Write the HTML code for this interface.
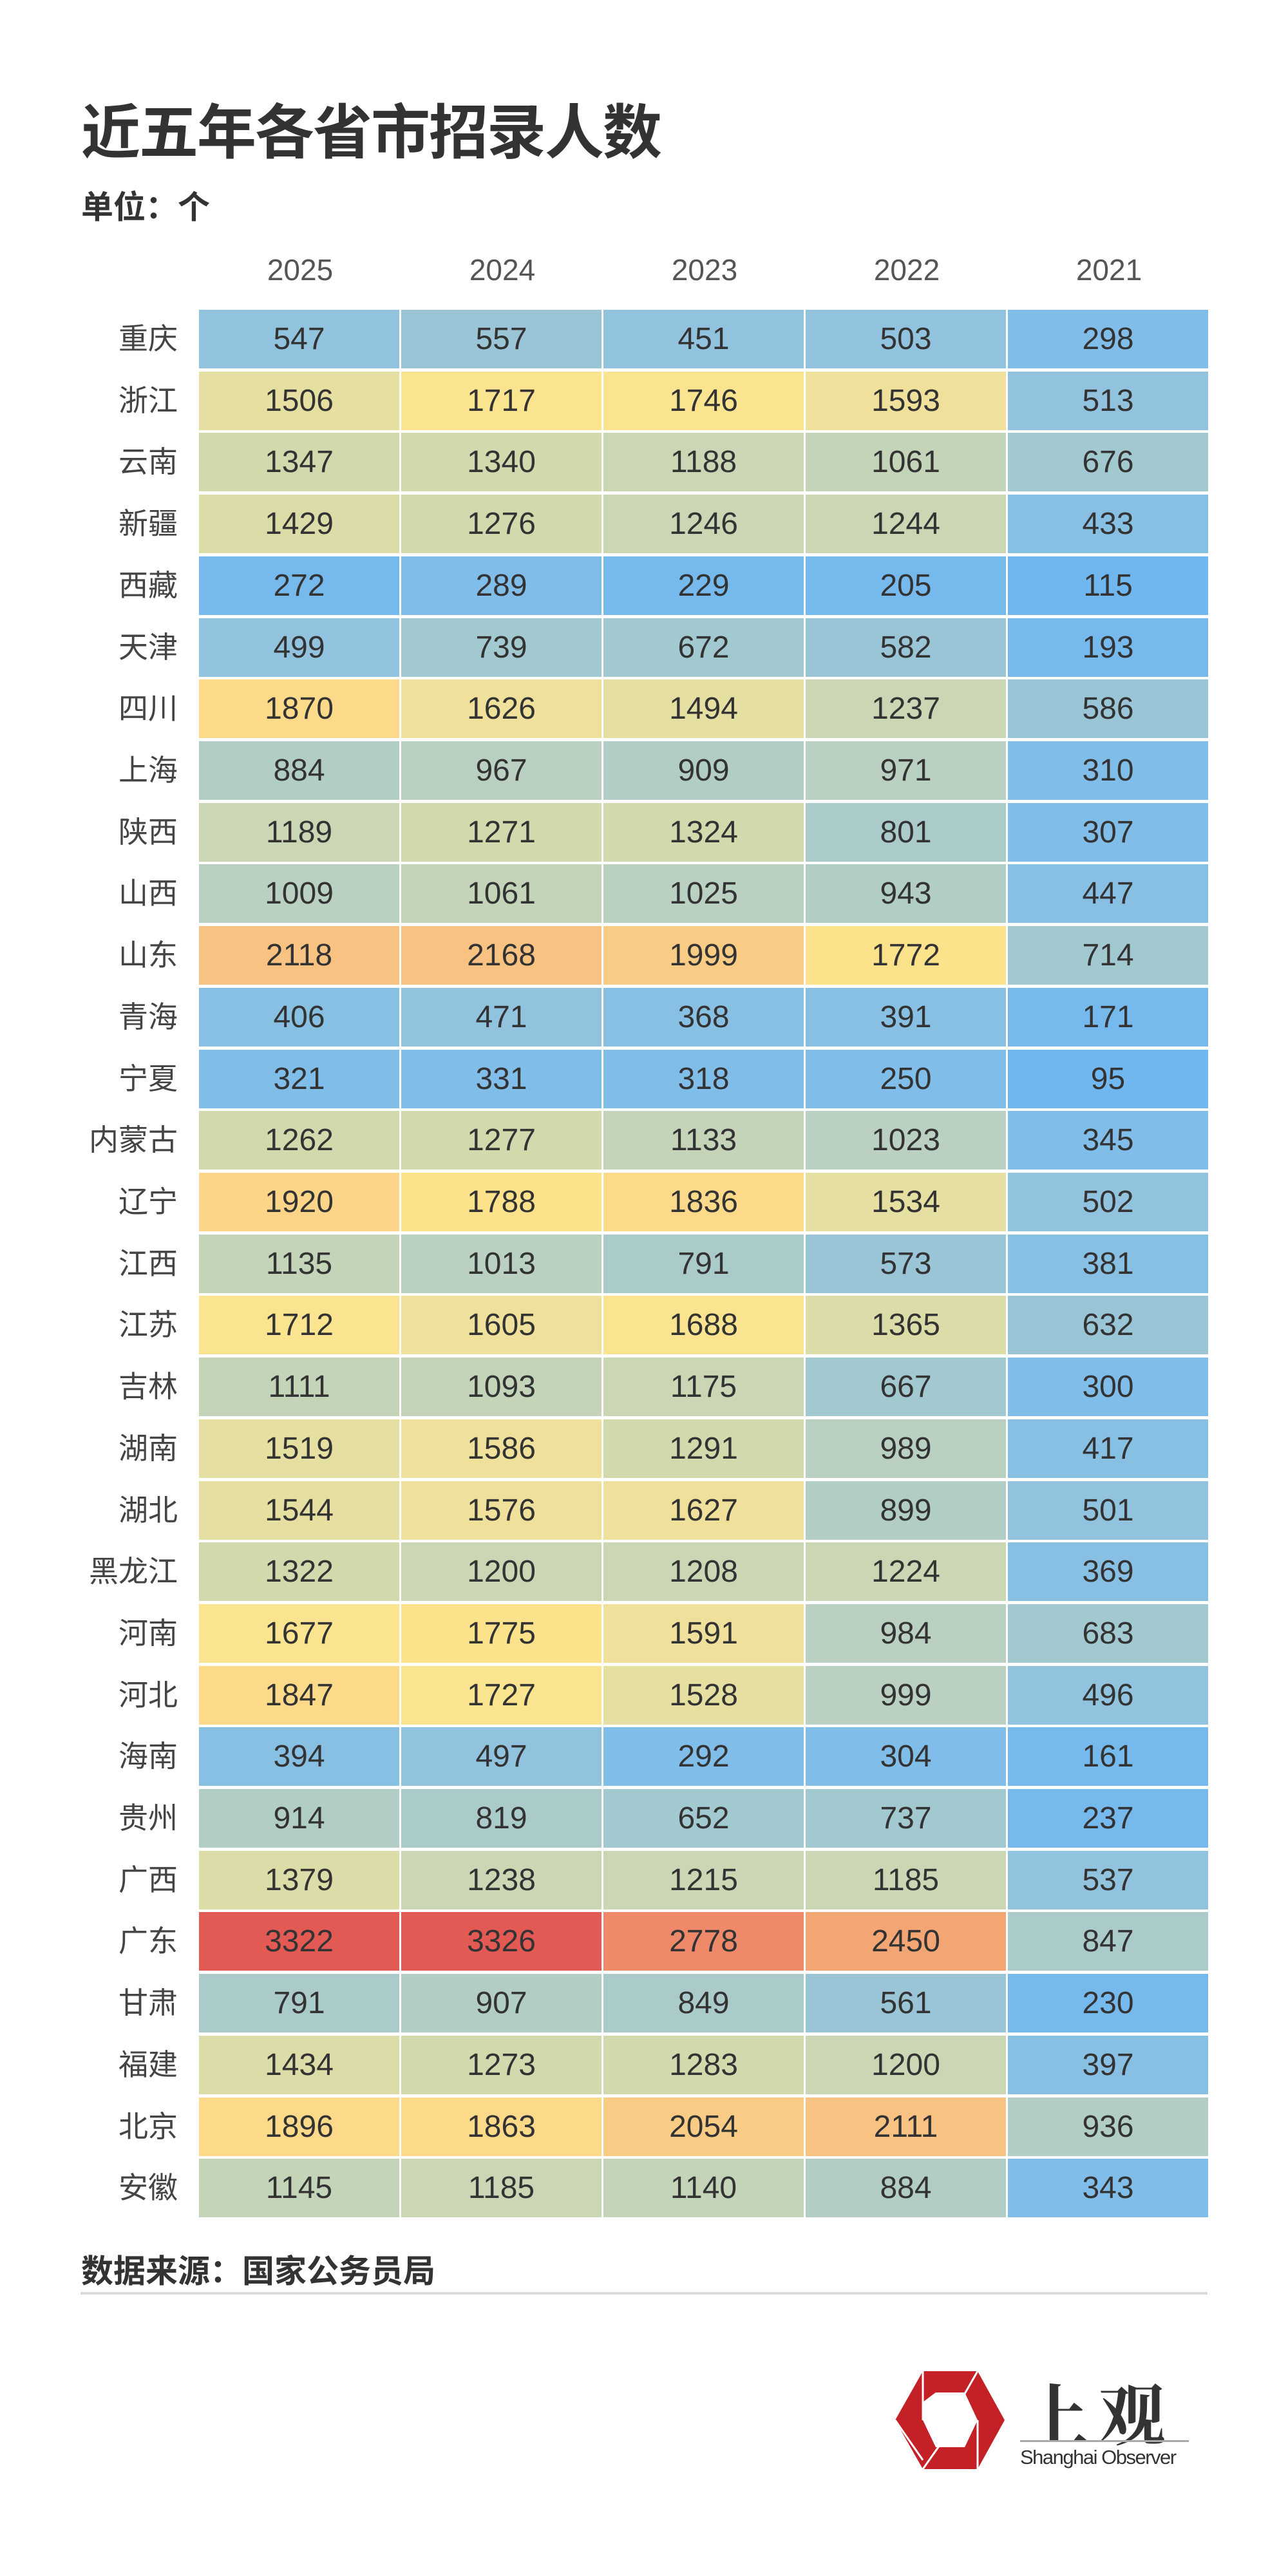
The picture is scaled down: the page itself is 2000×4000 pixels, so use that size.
<!DOCTYPE html>
<html><head><meta charset="utf-8"><style>
body{margin:0;width:2000px;height:4000px;background:#fff;position:relative;overflow:hidden;font-family:"Liberation Sans","Noto Sans CJK SC",sans-serif;}
.a{position:absolute}
.t{left:126px;top:132px;font-size:92px;font-weight:bold;color:#333;letter-spacing:-2px}
.u{left:126px;top:282px;font-size:50px;font-weight:bold;color:#333}
.y{position:absolute;top:392px;width:314px;text-align:center;font-size:46px;color:#555}
.r{position:absolute;left:100px;width:1780px;height:91px}
.l{float:left;width:176px;margin-right:33px;text-align:right;font-size:46px;color:#444;line-height:91px}
.c{float:left;height:91px;width:311px;margin-right:3px;line-height:91px;text-align:center;font-size:48px;color:#333}
.b0{background:#70b7ef}.b1{background:#76b9ed}.b2{background:#80bde8}.b3{background:#88c0e4}.b4{background:#91c3de}
.b5{background:#99c5d7}.b6{background:#a3c9d0}.b7{background:#abcbca}.b8{background:#b2cdc5}.b9{background:#bad0c0}
.b10{background:#c3d4b9}.b11{background:#cad6b4}.b12{background:#d2d9ad}.b13{background:#dcdca8}.b14{background:#e5dfa2}
.b15{background:#efe19b}.b16{background:#fae48f}.b17{background:#fde28c}.b18{background:#fdda8a}.b19{background:#fcd589}
.b20{background:#f9cc86}.b21{background:#f7c282}.b22{background:#f3a574}.b23{background:#ee8a6a}.b24{background:#e35a55}
</style></head><body>
<div class="a t">近五年各省市招录人数</div>
<div class="a u">单位：个</div>
<div class="y" style="left:309px">2025</div><div class="y" style="left:623px">2024</div><div class="y" style="left:937px">2023</div><div class="y" style="left:1251px">2022</div><div class="y" style="left:1565px">2021</div>

<div class="r" style="top:481px"><div class="l">重庆</div><div class="c b4">547</div><div class="c b5">557</div><div class="c b4">451</div><div class="c b4">503</div><div class="c b2">298</div></div>
<div class="r" style="top:577px"><div class="l">浙江</div><div class="c b14">1506</div><div class="c b16">1717</div><div class="c b16">1746</div><div class="c b15">1593</div><div class="c b4">513</div></div>
<div class="r" style="top:672px"><div class="l">云南</div><div class="c b12">1347</div><div class="c b12">1340</div><div class="c b11">1188</div><div class="c b10">1061</div><div class="c b6">676</div></div>
<div class="r" style="top:768px"><div class="l">新疆</div><div class="c b13">1429</div><div class="c b12">1276</div><div class="c b11">1246</div><div class="c b11">1244</div><div class="c b3">433</div></div>
<div class="r" style="top:864px"><div class="l">西藏</div><div class="c b1">272</div><div class="c b2">289</div><div class="c b1">229</div><div class="c b1">205</div><div class="c b0">115</div></div>
<div class="r" style="top:960px"><div class="l">天津</div><div class="c b4">499</div><div class="c b6">739</div><div class="c b6">672</div><div class="c b5">582</div><div class="c b1">193</div></div>
<div class="r" style="top:1055px"><div class="l">四川</div><div class="c b18">1870</div><div class="c b15">1626</div><div class="c b14">1494</div><div class="c b11">1237</div><div class="c b5">586</div></div>
<div class="r" style="top:1151px"><div class="l">上海</div><div class="c b8">884</div><div class="c b9">967</div><div class="c b8">909</div><div class="c b9">971</div><div class="c b2">310</div></div>
<div class="r" style="top:1247px"><div class="l">陕西</div><div class="c b11">1189</div><div class="c b12">1271</div><div class="c b12">1324</div><div class="c b7">801</div><div class="c b2">307</div></div>
<div class="r" style="top:1342px"><div class="l">山西</div><div class="c b9">1009</div><div class="c b10">1061</div><div class="c b9">1025</div><div class="c b8">943</div><div class="c b3">447</div></div>
<div class="r" style="top:1438px"><div class="l">山东</div><div class="c b21">2118</div><div class="c b21">2168</div><div class="c b20">1999</div><div class="c b17">1772</div><div class="c b6">714</div></div>
<div class="r" style="top:1534px"><div class="l">青海</div><div class="c b3">406</div><div class="c b4">471</div><div class="c b3">368</div><div class="c b3">391</div><div class="c b1">171</div></div>
<div class="r" style="top:1630px"><div class="l">宁夏</div><div class="c b2">321</div><div class="c b2">331</div><div class="c b2">318</div><div class="c b2">250</div><div class="c b0">95</div></div>
<div class="r" style="top:1725px"><div class="l">内蒙古</div><div class="c b12">1262</div><div class="c b12">1277</div><div class="c b10">1133</div><div class="c b9">1023</div><div class="c b2">345</div></div>
<div class="r" style="top:1821px"><div class="l">辽宁</div><div class="c b19">1920</div><div class="c b17">1788</div><div class="c b18">1836</div><div class="c b14">1534</div><div class="c b4">502</div></div>
<div class="r" style="top:1917px"><div class="l">江西</div><div class="c b10">1135</div><div class="c b9">1013</div><div class="c b7">791</div><div class="c b5">573</div><div class="c b3">381</div></div>
<div class="r" style="top:2012px"><div class="l">江苏</div><div class="c b16">1712</div><div class="c b15">1605</div><div class="c b16">1688</div><div class="c b13">1365</div><div class="c b5">632</div></div>
<div class="r" style="top:2108px"><div class="l">吉林</div><div class="c b10">1111</div><div class="c b10">1093</div><div class="c b11">1175</div><div class="c b6">667</div><div class="c b2">300</div></div>
<div class="r" style="top:2204px"><div class="l">湖南</div><div class="c b14">1519</div><div class="c b15">1586</div><div class="c b12">1291</div><div class="c b9">989</div><div class="c b3">417</div></div>
<div class="r" style="top:2300px"><div class="l">湖北</div><div class="c b14">1544</div><div class="c b15">1576</div><div class="c b15">1627</div><div class="c b8">899</div><div class="c b4">501</div></div>
<div class="r" style="top:2395px"><div class="l">黑龙江</div><div class="c b12">1322</div><div class="c b11">1200</div><div class="c b11">1208</div><div class="c b11">1224</div><div class="c b3">369</div></div>
<div class="r" style="top:2491px"><div class="l">河南</div><div class="c b16">1677</div><div class="c b17">1775</div><div class="c b15">1591</div><div class="c b9">984</div><div class="c b6">683</div></div>
<div class="r" style="top:2587px"><div class="l">河北</div><div class="c b18">1847</div><div class="c b16">1727</div><div class="c b14">1528</div><div class="c b9">999</div><div class="c b4">496</div></div>
<div class="r" style="top:2682px"><div class="l">海南</div><div class="c b3">394</div><div class="c b4">497</div><div class="c b2">292</div><div class="c b2">304</div><div class="c b1">161</div></div>
<div class="r" style="top:2778px"><div class="l">贵州</div><div class="c b8">914</div><div class="c b7">819</div><div class="c b6">652</div><div class="c b6">737</div><div class="c b1">237</div></div>
<div class="r" style="top:2874px"><div class="l">广西</div><div class="c b13">1379</div><div class="c b11">1238</div><div class="c b11">1215</div><div class="c b11">1185</div><div class="c b4">537</div></div>
<div class="r" style="top:2969px"><div class="l">广东</div><div class="c b24">3322</div><div class="c b24">3326</div><div class="c b23">2778</div><div class="c b22">2450</div><div class="c b7">847</div></div>
<div class="r" style="top:3065px"><div class="l">甘肃</div><div class="c b7">791</div><div class="c b8">907</div><div class="c b7">849</div><div class="c b5">561</div><div class="c b1">230</div></div>
<div class="r" style="top:3161px"><div class="l">福建</div><div class="c b13">1434</div><div class="c b12">1273</div><div class="c b12">1283</div><div class="c b11">1200</div><div class="c b3">397</div></div>
<div class="r" style="top:3257px"><div class="l">北京</div><div class="c b18">1896</div><div class="c b18">1863</div><div class="c b20">2054</div><div class="c b21">2111</div><div class="c b8">936</div></div>
<div class="r" style="top:3352px"><div class="l">安徽</div><div class="c b10">1145</div><div class="c b11">1185</div><div class="c b10">1140</div><div class="c b8">884</div><div class="c b2">343</div></div>

<div class="a" style="left:126px;top:3487px;font-size:50px;font-weight:bold;color:#333">数据来源：国家公务员局</div>
<div class="a" style="left:125px;top:3559px;width:1750px;height:4px;background:#dadada"></div>
<svg class="a" style="left:1388px;top:3680px" width="176" height="156" viewBox="0 0 176 156">
<polygon points="45,2 130,2 172,78 130,154 45,154 2,78" fill="#c42127"/>
<polygon points="45,50 65,35 110,35 130,78 110,120 65,120 45,78" fill="#fff"/>
<line x1="45" y1="2" x2="45" y2="78" stroke="#fff" stroke-width="3"/>
<line x1="130" y1="2" x2="90" y2="72" stroke="#fff" stroke-width="3"/>
<line x1="130" y1="154" x2="130" y2="78" stroke="#fff" stroke-width="3"/>
<line x1="45" y1="154" x2="90" y2="90" stroke="#fff" stroke-width="3"/>
<line x1="2" y1="78" x2="45" y2="140" stroke="#fff" stroke-width="3"/>
</svg>
<div class="a" style="left:1588px;top:3668px;font-size:104px;color:#333;font-family:'Noto Serif CJK SC',serif;font-weight:bold;letter-spacing:14px">上观</div>
<div class="a" style="left:1584px;top:3789px;width:262px;height:3px;background:#aaa"></div>
<div class="a" style="left:1584px;top:3798px;font-size:31px;color:#333;letter-spacing:-1.5px">Shanghai Observer</div>
</body></html>
